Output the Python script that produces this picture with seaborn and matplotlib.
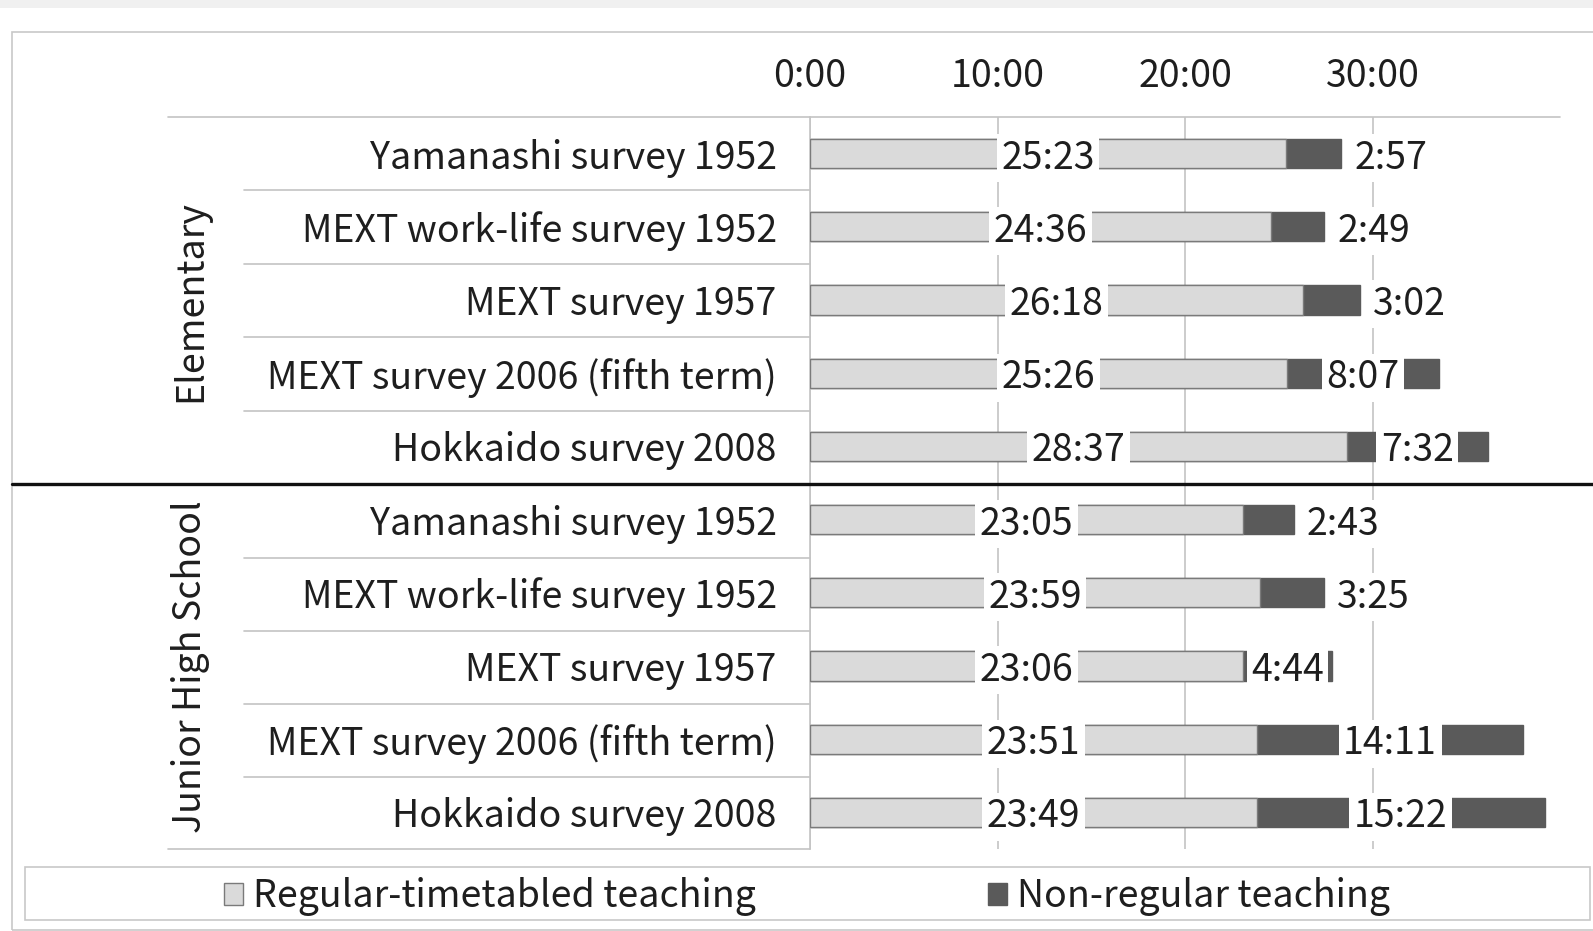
import pandas as pd
import matplotlib
matplotlib.use("Agg")
import matplotlib.pyplot as plt
import seaborn as sns
from matplotlib.lines import Line2D
from matplotlib.patches import Rectangle

# chart data (hours:minutes per week)
groups = ["Elementary"] * 5 + ["Junior High School"] * 5
surveys = ["Yamanashi survey 1952", "MEXT work-life survey 1952", "MEXT survey 1957",
           "MEXT survey 2006 (fifth term)", "Hokkaido survey 2008"] * 2
regular = ["25:23", "24:36", "26:18", "25:26", "28:37",
           "23:05", "23:59", "23:06", "23:51", "23:49"]
non_regular = ["2:57", "2:49", "3:02", "8:07", "7:32",
               "2:43", "3:25", "4:44", "14:11", "15:22"]
x_ticks = [0, 10, 20, 30]
x_tick_labels = ["0:00", "10:00", "20:00", "30:00"]
legend_labels = ["Regular-timetabled teaching", "Non-regular teaching"]


def to_hours(s):
    h, m = s.split(":")
    return int(h) + int(m) / 60


df = pd.DataFrame({
    "row": [f"{g} | {s}" for g, s in zip(groups, surveys)],
    "survey": surveys,
    "regular": [to_hours(v) for v in regular],
    "non_regular": [to_hours(v) for v in non_regular],
})
df["total"] = df["regular"] + df["non_regular"]

LIGHT = "#dadada"
EDGE = "#7a7a7a"
DARK = "#5a5a5a"
GRID = "#c4c4c4"
TXT = "#1e1e1e"
FS = 27

sns.set_style("white")
plt.rcParams["font.family"] = ["Noto Sans CJK JP", "DejaVu Sans"]

W, H = 1593, 931
fig = plt.figure(figsize=(W / 100, H / 100), dpi=100)
fig.patch.set_facecolor("white")

# page decoration: grey band on top and outer frame
fig.add_artist(Rectangle((0, 1 - 8 / H), 1, 8 / H, transform=fig.transFigure,
                         facecolor="#f0f0f0", edgecolor="none"))
fig.add_artist(Rectangle((12 / W, 1 / H), 1.2, (H - 33) / H, transform=fig.transFigure,
                         facecolor="none", edgecolor="#c8c8c8", linewidth=1.2))

ax = fig.add_axes([810 / W, 1 - 849 / H, 750 / W, 732 / H])

sns.barplot(data=df, y="row", x="total", orient="h", color=DARK, saturation=1,
            edgecolor=DARK, linewidth=1, width=0.4, ax=ax, zorder=2)
sns.barplot(data=df, y="row", x="regular", orient="h", color=LIGHT, saturation=1,
            edgecolor=EDGE, linewidth=1, width=0.4, ax=ax, zorder=3)
if ax.get_legend() is not None:
    ax.get_legend().remove()

ax.set_xlim(0, 40)
ax.set_ylim(len(df) - 0.5, -0.5)
ax.xaxis.tick_top()
ax.set_xticks(x_ticks, x_tick_labels)
ax.set_yticks(range(len(df)), df["survey"])
ax.tick_params(axis="x", length=0, pad=15, labelsize=FS, labelcolor=TXT)
ax.tick_params(axis="y", length=0, pad=24, labelsize=FS, labelcolor=TXT)
ax.set_xlabel("")
ax.set_ylabel("")
ax.grid(axis="x", color=GRID, linewidth=1.2)
ax.grid(axis="y", visible=False)
ax.set_axisbelow(True)
for side in ["top", "right", "bottom"]:
    ax.spines[side].set_visible(False)
ax.spines["left"].set_color(GRID)
ax.spines["left"].set_linewidth(1.2)

# data labels
box = dict(boxstyle="square,pad=0.12", facecolor="white", edgecolor="none")
for i, r in df.iterrows():
    ax.text(r["regular"] / 2, i, regular[i], ha="center", va="center_baseline",
            fontsize=FS, color=TXT, bbox=box, zorder=5)
    if r["non_regular"] >= 4:
        ax.text(r["regular"] + r["non_regular"] / 2, i, non_regular[i], ha="center",
                va="center_baseline", fontsize=FS, color=TXT, bbox=box, zorder=5)
    else:
        ax.text(r["total"] + 0.7, i, non_regular[i], ha="left",
                va="center_baseline", fontsize=FS, color=TXT, bbox=box, zorder=5)


def hline(x0, x1, y, color=GRID, lw=1.2):
    fig.add_artist(Line2D([x0 / W, x1 / W], [1 - y / H, 1 - y / H],
                          transform=fig.transFigure, color=color, linewidth=lw))


# table-like rules
hline(168, 1560, 117)
hline(168, 810, 849)
for y in [190, 264, 337, 410.5, 558, 631, 704, 777]:
    hline(244, 810, y)
hline(12, W, 484, color="#111111", lw=2.4)

# group labels
fig.text(191 / W, 1 - 301 / H, "Elementary", rotation=90, ha="center", va="center",
         fontsize=FS, color=TXT)
fig.text(191 / W, 1 - 667 / H, "Junior High School", rotation=90, ha="center",
         va="center", fontsize=FS, color=TXT)

# legend
fig.add_artist(Rectangle((25 / W, 1 - 920 / H), 1565 / W, 53 / H, transform=fig.transFigure,
                         facecolor="white", edgecolor="#c8c8c8", linewidth=1.2))
handles = [Rectangle((0, 0), 1, 1, facecolor=LIGHT, edgecolor=EDGE, linewidth=1),
           Rectangle((0, 0), 1, 1, facecolor=DARK, edgecolor=DARK, linewidth=1)]
fig.legend(handles, legend_labels, loc="center", bbox_to_anchor=(807 / W, 1 - 897 / H),
           ncol=2, frameon=False, fontsize=FS, handlelength=0.5, handleheight=0.52,
           handletextpad=0.26, columnspacing=6.2, labelcolor=TXT)

fig.savefig("out.png", dpi=100)
